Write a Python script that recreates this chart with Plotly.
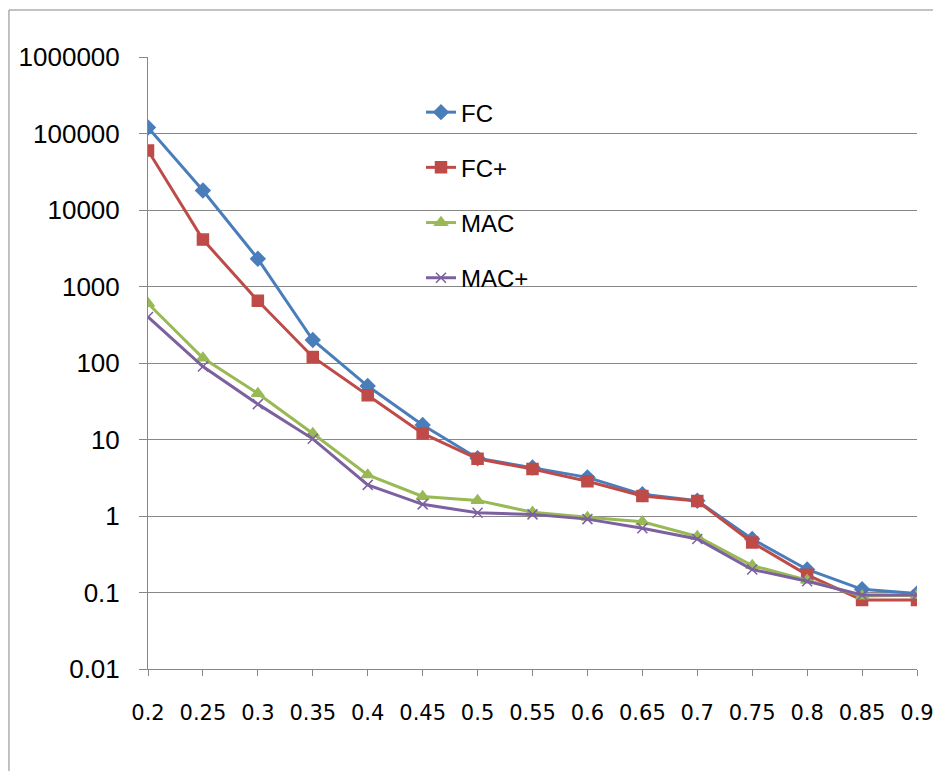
import plotly.graph_objects as go

x_vals = [0.2, 0.25, 0.3, 0.35, 0.4, 0.45, 0.5, 0.55, 0.6, 0.65, 0.7, 0.75, 0.8, 0.85, 0.9]
x_labels = ["0.2", "0.25", "0.3", "0.35", "0.4", "0.45", "0.5", "0.55", "0.6", "0.65", "0.7", "0.75", "0.8", "0.85", "0.9"]

fc = [120000, 18000, 2300, 200, 50, 15.5, 5.7, 4.3, 3.2, 1.92, 1.58, 0.5, 0.2, 0.11, 0.097]
fc_plus = [60000, 4100, 650, 120, 38, 12, 5.6, 4.1, 2.85, 1.83, 1.57, 0.45, 0.17, 0.08, 0.08]
mac = [600, 116, 40, 12, 3.45, 1.8, 1.6, 1.12, 0.96, 0.84, 0.54, 0.225, 0.145, 0.09, 0.092]
mac_plus = [400, 90, 29, 10.2, 2.55, 1.42, 1.1, 1.05, 0.91, 0.69, 0.5, 0.2, 0.14, 0.093, 0.093]

y_ticks = [0.01, 0.1, 1, 10, 100, 1000, 10000, 100000, 1000000]
y_labels = ["0.01", "0.1", "1", "10", "100", "1000", "10000", "100000", "1000000"]

series = [
    ("FC", fc, "#4A7EBB", "diamond", 11),
    ("FC+", fc_plus, "#BE4B48", "square", 11),
    ("MAC", mac, "#98B954", "triangle-up", 11),
    ("MAC+", mac_plus, "#7D60A0", "x-thin-open", 10),
]

fig = go.Figure()
for name, vals, color, sym, size in series:
    fig.add_trace(go.Scatter(
        x=x_vals, y=vals, name=name, mode="lines+markers",
        legendgroup=name,
        line=dict(color=color, width=3),
        marker=dict(symbol=sym, size=size, color=color,
                    line=dict(color=color, width=1.5)),
    ))

grid = "#878787"
fig.update_layout(
    width=933, height=771,
    margin=dict(l=148, r=16, t=57, b=102, autoexpand=False),
    paper_bgcolor="white", plot_bgcolor="white",
    showlegend=True,
    legend=dict(
        x=0.355, y=0.946, xanchor="left", yanchor="top",
        font=dict(family="Liberation Sans Narrow, Liberation Sans, sans-serif", size=24, color="black"),
        bgcolor="rgba(0,0,0,0)",
        tracegroupgap=21,
        traceorder="grouped",
    ),
    xaxis=dict(
        range=[0.2, 0.9], tickmode="array", tickvals=x_vals, ticktext=x_labels,
        showgrid=False, showline=True, linecolor=grid, linewidth=1,
        ticks="outside", ticklen=6, tickcolor=grid,
        tickfont=dict(family="DejaVu Sans", size=21, color="black"),
        ticklabelstandoff=19, zeroline=False,
        ticklabeloverflow="allow", automargin=False,
    ),
    yaxis=dict(
        type="log", range=[-2, 6], tickmode="array", tickvals=y_ticks, ticktext=y_labels,
        showgrid=True, gridcolor=grid, gridwidth=1,
        showline=True, linecolor=grid, linewidth=1,
        ticks="outside", ticklen=8, tickcolor=grid,
        tickfont=dict(family="Liberation Sans", size=26, color="black"),
        ticklabelstandoff=14, zeroline=False, automargin=False,
    ),
)

fig.add_shape(type="rect", xref="paper", yref="paper",
              x0=-0.1808, x1=1.05, y0=-0.2, y1=1.0768,
              line=dict(color="#868686", width=1), fillcolor="rgba(0,0,0,0)", layer="below")

fig.write_html("out.html",
               config={"displayModeBar": False},
               post_script="document.body.style.margin='0';document.body.style.overflow='hidden';")
